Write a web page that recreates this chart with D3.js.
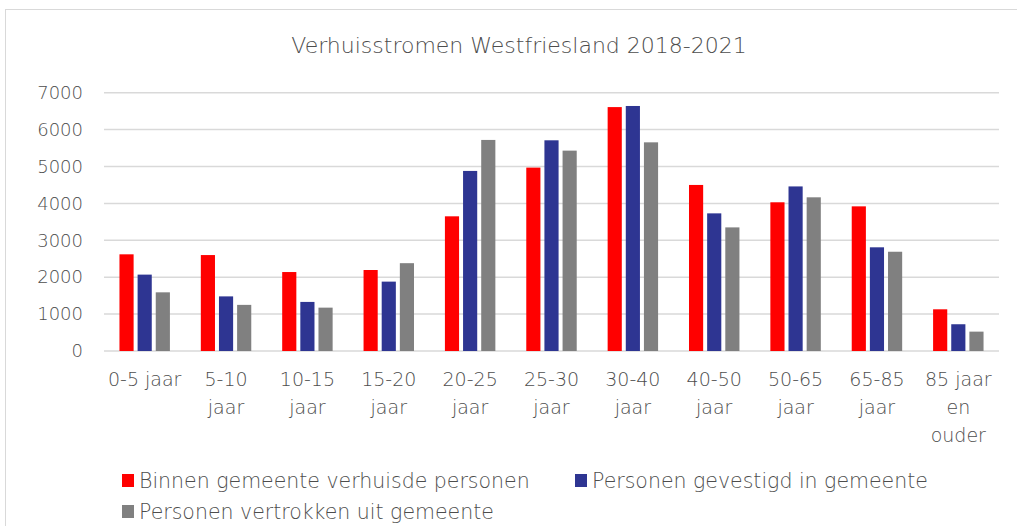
<!DOCTYPE html>
<html>
<head>
<meta charset="utf-8">
<script src="https://cdn.jsdelivr.net/npm/d3@7"></script>
<style>
  body { margin: 0; background: #fff; }
  svg { display: block; font-family: "DejaVu Sans", sans-serif; }
</style>
</head>
<body>
<svg id="chart" width="1017" height="526"></svg>
<script>
const title = 'Verhuisstromen Westfriesland 2018-2021';
const categories = ['0-5 jaar', '5-10 jaar', '10-15 jaar', '15-20 jaar', '20-25 jaar', '25-30 jaar',
  '30-40 jaar', '40-50 jaar', '50-65 jaar', '65-85 jaar', '85 jaar en ouder'];
const catLines = [['0-5 jaar'], ['5-10', 'jaar'], ['10-15', 'jaar'], ['15-20', 'jaar'], ['20-25', 'jaar'],
  ['25-30', 'jaar'], ['30-40', 'jaar'], ['40-50', 'jaar'], ['50-65', 'jaar'], ['65-85', 'jaar'],
  ['85 jaar', 'en', 'ouder']];
const seriesNames = ['Binnen gemeente verhuisde personen', 'Personen gevestigd in gemeente',
  'Personen vertrokken uit gemeente'];
const binnen = [2620, 2600, 2140, 2195, 3650, 4970, 6610, 4500, 4030, 3920, 1130];
const gevestigd = [2070, 1480, 1330, 1880, 4880, 5710, 6640, 3730, 4460, 2810, 725];
const vertrokken = [1590, 1250, 1175, 2380, 5720, 5430, 5655, 3350, 4165, 2690, 525];
const yTicks = [0, 1000, 2000, 3000, 4000, 5000, 6000, 7000];
const colors = ['#ff0000', '#2e3592', '#808080'];

const seriesValues = [binnen, gevestigd, vertrokken];
const textColor = '#4d4d4d';
const fontFam = '"DejaVu Sans", sans-serif';

const svg = d3.select('#chart');

// chart frame
svg.append('rect')
  .attr('x', 5.5).attr('y', 9.5)
  .attr('width', 1030).attr('height', 540)
  .attr('fill', 'none').attr('stroke', '#d9d9d9');

svg.append('text')
  .attr('x', 519).attr('y', 53)
  .attr('text-anchor', 'middle')
  .attr('fill', textColor)
  .style('font-size', '22px')
  .style('font-weight', 200)
  .text(title);

const plotLeft = 104, plotRight = 999, plotTop = 92.7, plotBottom = 351;

const x0 = d3.scaleBand()
  .domain(categories)
  .range([plotLeft, plotRight])
  .paddingInner(0.38)
  .paddingOuter(0.19);

const x1 = d3.scaleBand()
  .domain(seriesNames)
  .range([0, x0.bandwidth()])
  .paddingInner(0.22);

const y = d3.scaleLinear()
  .domain([0, 7000])
  .range([plotBottom, plotTop]);

// gridlines
svg.append('g')
  .selectAll('line')
  .data(yTicks)
  .join('line')
  .attr('x1', plotLeft).attr('x2', plotRight)
  .attr('y1', d => y(d)).attr('y2', d => y(d))
  .attr('stroke', '#d9d9d9')
  .attr('stroke-width', 1.5);

// y axis labels
const yAxis = svg.append('g')
  .attr('transform', `translate(${plotLeft - 21},0)`)
  .call(d3.axisLeft(y).tickValues(yTicks).tickSize(0).tickPadding(0).tickFormat(d3.format('d')));
yAxis.select('.domain').remove();
yAxis.selectAll('text')
  .attr('fill', textColor)
  .style('font-size', '18px')
  .style('font-weight', 200)
  .style('font-family', fontFam);

// bars
const groups = svg.append('g')
  .selectAll('g')
  .data(categories)
  .join('g')
  .attr('transform', d => `translate(${x0(d)},0)`);

groups.selectAll('rect')
  .data((d, i) => seriesNames.map((s, j) => ({ s: s, v: seriesValues[j][i], c: colors[j] })))
  .join('rect')
  .attr('x', d => x1(d.s))
  .attr('y', d => y(d.v))
  .attr('width', x1.bandwidth())
  .attr('height', d => y(0) - y(d.v))
  .attr('fill', d => d.c);

// category labels
const catText = svg.append('g')
  .selectAll('text')
  .data(categories)
  .join('text')
  .attr('text-anchor', 'middle')
  .attr('fill', textColor)
  .style('font-size', '19px')
  .style('font-weight', 200)
  .attr('x', d => x0(d) + x0.bandwidth() / 2);

catText.selectAll('tspan')
  .data((d, i) => catLines[i])
  .join('tspan')
  .attr('x', function () { return d3.select(this.parentNode).attr('x'); })
  .attr('y', (d, i) => 386 + i * 28)
  .text(d => d);

// legend
const legendPos = [[122, 481], [575, 481], [122, 512]];
const legend = svg.append('g')
  .selectAll('g')
  .data(seriesNames)
  .join('g')
  .attr('transform', (d, i) => `translate(${legendPos[i][0]},${legendPos[i][1]})`);

legend.append('rect')
  .attr('x', 0).attr('y', -7)
  .attr('width', 12).attr('height', 13)
  .attr('fill', (d, i) => colors[i]);

legend.append('text')
  .attr('x', 17).attr('y', 6.5)
  .attr('fill', textColor)
  .style('font-size', '20.5px')
  .style('font-weight', 200)
  .text(d => d);
</script>
</body>
</html>
